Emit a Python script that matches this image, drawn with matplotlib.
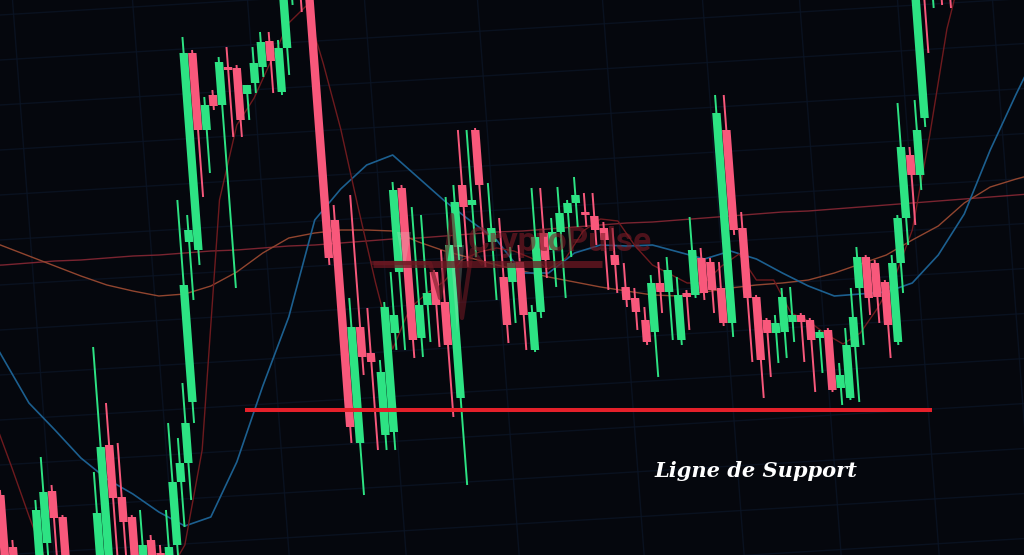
import math
import matplotlib
matplotlib.use("Agg")
import matplotlib.pyplot as plt
from matplotlib.transforms import Affine2D
from matplotlib.patches import Rectangle, Polygon
import numpy as np

# ---------------- data (price units) ----------------
opens = [107, 105, 53, 20, 34, 25, 57, 109, 83, 28, 15, 20, 25, 22, 155, 103, 83, 25, 60, 47,
         25, 55, 118, 137, 198, 358, 350, 547, 470, 505, 495, 533, 532, 506, 517, 533, 559, 508, 552, 605,
         630, 630, 380, 157, 273, 247, 165, 168, 267, 328, 412, 262, 295, 328, 298, 202, 353, 415, 395, 470,
         358, 323, 318, 338, 250, 288, 367, 350, 368, 387, 397, 388, 384, 372, 345, 313, 302, 280, 268, 317,
         308, 260, 307, 305, 342, 338, 312, 277, 470, 372, 303, 280, 267, 268, 278, 285, 280, 262, 270, 212,
         202, 253, 312, 343, 337, 318, 258, 337, 382, 445, 425, 482, 630, 600, 630, 630]
highs = [110, 110, 60, 35, 38, 100, 143, 115, 85, 32, 35, 40, 128, 253, 197, 157, 85, 90, 65, 55,
         90, 177, 162, 217, 400, 385, 563, 550, 503, 510, 543, 553, 535, 515, 553, 568, 568, 560, 620, 640,
         640, 640, 395, 302, 405, 292, 240, 298, 328, 418, 415, 393, 385, 330, 350, 403, 415, 470, 470, 472,
         417, 382, 353, 355, 295, 412, 412, 382, 413, 400, 423, 407, 407, 378, 372, 337, 312, 293, 325, 338,
         343, 323, 310, 383, 352, 342, 338, 505, 505, 388, 305, 282, 285, 312, 313, 287, 282, 270, 272, 237,
         272, 312, 353, 345, 340, 320, 345, 385, 497, 453, 500, 630, 640, 640, 640, 640]
lows = [15, 15, 15, 10, 10, 10, 35, 25, 10, 5, 5, 10, 10, 10, 25, 25, 10, 10, 10, 10,
        10, 42, 73, 100, 177, 300, 335, 403, 427, 490, 312, 463, 463, 480, 507, 523, 507, 505, 525, 595,
        588, 335, 157, 105, 225, 150, 150, 150, 250, 250, 242, 243, 258, 253, 183, 115, 340, 333, 343, 333,
        300, 257, 277, 250, 248, 282, 322, 313, 302, 343, 373, 373, 355, 310, 307, 293, 270, 255, 223, 287,
        260, 255, 270, 302, 300, 287, 274, 263, 365, 238, 202, 223, 237, 242, 258, 238, 208, 227, 208, 195,
        200, 198, 255, 285, 277, 242, 255, 307, 355, 375, 410, 473, 547, 592, 595, 592]
closes = [25, 25, 25, 30, 22, 90, 108, 82, 25, 15, 30, 35, 87, 153, 102, 78, 25, 55, 25, 25,
          53, 118, 137, 177, 315, 370, 547, 470, 495, 494, 538, 530, 480, 515, 537, 558, 539, 552, 615, 635,
          605, 342, 173, 273, 243, 238, 228, 293, 285, 410, 260, 295, 307, 295, 255, 355, 398, 393, 400, 415,
          372, 275, 337, 285, 288, 363, 340, 368, 387, 397, 405, 385, 370, 360, 335, 300, 288, 258, 317, 308,
          330, 305, 303, 350, 307, 310, 277, 487, 370, 302, 240, 267, 277, 303, 285, 278, 260, 268, 210, 225,
          255, 283, 343, 302, 303, 275, 337, 382, 453, 425, 470, 620, 610, 620, 610, 608]

# moving averages, one value every MA_STEP candles (fast one every FAST_STEP)
MA_STEP = 3
FAST_STEP = 2
ma_blue = [287, 242, 197, 170, 142, 121, 106, 88, 74, 83, 138, 214, 283, 380, 411, 435, 445, 422, 399, 379,
           360, 327, 327, 347, 355, 354, 355, 348, 341, 349, 341, 327, 314, 304, 306, 308, 317, 345, 386, 450,
           506, 559]
ma_long = [334, 335, 337, 339, 340, 342, 344, 345, 347, 349, 350, 352, 354, 355, 357, 359, 361, 362, 364, 366,
           368, 369, 371, 373, 375, 377, 378, 380, 382, 384, 386, 388, 389, 391, 393, 395, 397, 399, 401, 403,
           405, 407]
ma_mid = [364, 354, 344, 334, 324, 315, 309, 304, 306, 314, 328, 347, 362, 367, 370, 370, 369, 358, 349, 342,
          335, 329, 323, 318, 313, 309, 305, 304, 308, 312, 315, 317, 320, 327, 336, 345, 360, 374, 397, 413,
          421, 428]
ma_fast = [228, 180, 133, 84, 38, 20, 10, 5, 5, 10, 15, 25, 55, 150, 400, 475, 502, 540, 577, 594,
           536, 471, 393, 318, 251, 292, 307, 319, 340, 348, 352, 349, 342, 331, 342, 369, 381, 379, 354, 335,
           326, 317, 317, 334, 346, 320, 320, 287, 279, 266, 256, 267, 292, 323, 370, 464, 571, 640]

support_level = 190
support_from = 31.0
support_to = 110.3
label_text = "Ligne de Support"
watermark_text = "CryptoPulse"

# ---------------- style ----------------
BG = "#05070d"
GREEN = "#2de383"
RED = "#f8587b"
GRID = "#0b1424"

W, H, DPI = 1024, 555, 100
X0, SP = -23.0, 8.66          # pixel x of candle 0 and candle spacing
LEAN = 0.075                  # perspective lean of the photographed chart

fig = plt.figure(figsize=(W / DPI, H / DPI), dpi=DPI)
fig.patch.set_facecolor(BG)

# background / grid layer in pixel coordinates
deco = fig.add_axes([0, 0, 1, 1], zorder=0)
deco.set_xlim(0, W)
deco.set_ylim(H, 0)
deco.axis("off")
deco.set_facecolor(BG)
for y0 in range(15, 640, 45):
    deco.plot([0, W], [y0, y0 - 0.06 * W], color=GRID, lw=1.0, alpha=0.8)
for xv in [35, 155, 270, 387, 500, 625, 725, 822, 920, 1015]:
    deco.plot([xv - LEAN * 300, xv + LEAN * 255], [0, H], color=GRID, lw=1.0, alpha=0.8)

# chart layer
ax = fig.add_axes([0, 0, 1, 1], zorder=1)
ax.patch.set_alpha(0)
ax.axis("off")

pivot = H - 300
skew = Affine2D().translate(0, -pivot).skew(math.atan(-LEAN), 0).translate(0, pivot)
tr = ax.transData + skew

# moving averages (behind candles)
ax.plot(np.arange(len(ma_long)) * MA_STEP, ma_long, color="#7a2430", lw=1.0, zorder=1)
ax.plot(np.arange(len(ma_mid)) * MA_STEP, ma_mid, color="#91452f", lw=1.0, zorder=1)
ax.plot(np.arange(len(ma_blue)) * MA_STEP, ma_blue, color="#1c5f8f", lw=1.2, zorder=1)
ax.plot(np.arange(len(ma_fast)) * FAST_STEP, ma_fast, color="#6e1a1e", lw=1.0, zorder=1)

# candles
idx = np.arange(len(opens))
cols = [GREEN if c >= o else RED for o, c in zip(opens, closes)]
ax.vlines(idx, lows, highs, colors=cols, lw=1.4, transform=tr, zorder=2)
bw = 0.97
for i, o, c, col in zip(idx, opens, closes, cols):
    lo, hi = min(o, c), max(o, c)
    if hi - lo < 3:
        hi = lo + 3
    ax.add_patch(Rectangle((i - bw / 2, lo), bw, hi - lo, facecolor=col,
                           edgecolor="none", transform=tr, zorder=3))

# support line
ax.hlines(support_level, support_from, support_to, color="#e5202a", lw=2.9, zorder=5)

ax.set_xlim(-X0 / SP, (W - X0) / SP)
ax.set_ylim(600 - H, 600)

# overlay layer: watermark and label (pixel coords)
top = fig.add_axes([0, 0, 1, 1], zorder=2)
top.patch.set_alpha(0)
top.set_xlim(0, W)
top.set_ylim(H, 0)
top.axis("off")
top.plot([373, 602], [263.5, 263.5], color="#6e1822", lw=5, alpha=0.75, solid_capstyle="butt")
top.plot([373, 430, 440, 452, 462, 472, 482], [263, 263, 298, 215, 318, 250, 263],
         color="#6e1822", lw=3, alpha=0.6)
top.add_patch(Polygon([(397, 232), (411, 232), (404, 272)], closed=True,
                      facecolor="#d8e8d8", alpha=0.22, edgecolor="none"))
top.add_patch(Polygon([(450, 245), (464, 245), (457, 333)], closed=True,
                      facecolor="#d8e8d8", alpha=0.22, edgecolor="none"))
top.text(468, 251, watermark_text, fontsize=24, fontweight="bold", family="Roboto",
         color="#7e1b26", alpha=0.6, ha="left", va="baseline")
top.text(655, 477, label_text, fontsize=15.1, fontweight="bold", style="italic",
         family="DejaVu Serif", color="white", ha="left", va="baseline")

fig.savefig("out.png", dpi=DPI, facecolor=BG)
